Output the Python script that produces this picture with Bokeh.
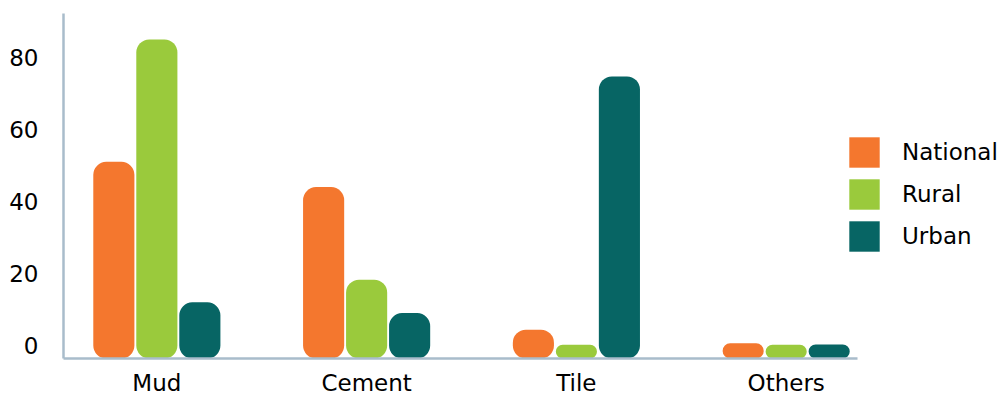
import numpy as np
from bokeh.plotting import figure
from bokeh.models import Range1d, FixedTicker, Legend, LegendItem, ColumnDataSource
from bokeh.embed import file_html
from bokeh.resources import INLINE

categories = ["Mud", "Cement", "Tile", "Others"]
series = ["National", "Rural", "Urban"]
national = [51, 44, 4.4, 0.6]
rural = [85, 18.3, 0.2, 0.2]
urban = [12, 9, 74.7, 0.3]
colors = ["#F4772E", "#9ACA3C", "#076564"]
y_ticks = [0, 20, 40, 60, 80]

FONT = "DejaVu Sans"
Y_START, Y_END = -3.6, 92.2   # bars rise from the bottom edge of the plot frame

p = figure(frame_width=794, frame_height=345, output_backend="svg", toolbar_location=None,
           x_range=Range1d(-0.445, 3.34), y_range=Range1d(Y_START, Y_END),
           min_border_left=63, min_border_right=0, min_border_top=13, min_border_bottom=36)
p.outline_line_color = None
p.grid.visible = False
p.background_fill_color = "white"
p.border_fill_color = "white"

idx = np.arange(len(categories))
step = 0.205
width = 0.196
renderers = []
for k, (name, vals, col) in enumerate(zip(series, [national, rural, urban], colors)):
    src = ColumnDataSource(dict(x=idx + (k - 1) * step, top=vals))
    r = p.vbar(x="x", top="top", bottom=Y_START, width=width, source=src,
               fill_color=col, line_color=None, border_radius=13)
    renderers.append(r)

p.xaxis.ticker = FixedTicker(ticks=list(idx))
p.xaxis.major_label_overrides = {int(i): c for i, c in zip(idx, categories)}
p.yaxis.ticker = FixedTicker(ticks=y_ticks)
for ax in (p.xaxis, p.yaxis):
    ax.axis_line_color = "#A9BCCB"
    ax.axis_line_width = 2.5
    ax.major_tick_line_color = None
    ax.minor_tick_line_color = None
    ax.major_label_text_font = FONT
    ax.major_label_text_font_size = "23px"
    ax.major_label_text_color = "#000000"
p.xaxis.major_label_standoff = 5
p.yaxis.major_label_standoff = 19

legend = Legend(items=[LegendItem(label=s, renderers=[r]) for s, r in zip(series, renderers)],
                location=(-12, 103), glyph_width=38, glyph_height=38, label_height=38,
                spacing=4, padding=0, margin=0, label_standoff=19,
                label_text_font=FONT, label_text_font_size="23px",
                label_text_color="#000000", border_line_color=None,
                background_fill_alpha=0)
p.add_layout(legend, "right")

open("out.html", "w").write(file_html(p, INLINE))
